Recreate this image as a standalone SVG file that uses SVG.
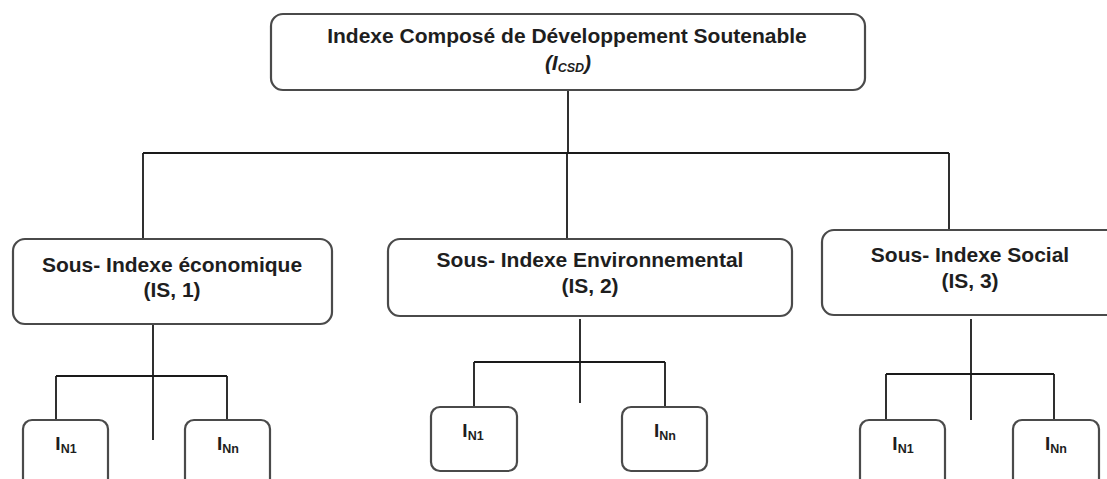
<svg xmlns="http://www.w3.org/2000/svg" width="1107" height="479" viewBox="0 0 1107 479">
<style>
.box{fill:#fff;stroke:#4a4a4a;stroke-width:2.2}
.leaf{fill:#fff;stroke:#4a4a4a;stroke-width:2.2}
.t{font-family:"Liberation Sans",Arial,sans-serif;font-weight:bold;font-size:21px;fill:#1e1e1e;text-anchor:middle}
.lt{font-family:"Liberation Sans",Arial,sans-serif;font-weight:bold;font-size:19px;fill:#1e1e1e;text-anchor:middle}
.sub{font-size:12.5px}
.con{fill:none;stroke:#1a1a1a;stroke-width:1.8}
</style>
<rect width="1107" height="479" fill="#fff"/>
<g id="connectors">
<path class="con" d="M568 90V153M143 153H949M143 153V239M567 153V239M949 153V230"/>
<path class="con" d="M153 324V440M56 376H227M56 376V420M227 376V420"/>
<path class="con" d="M580 319V403M474 362H665M474 362V406M665 362V406"/>
<path class="con" d="M971 319V420M886 374H1054M886 374V420M1054 374V420"/>
</g>
<g id="root">
<rect class="box" x="271" y="14" width="594" height="76" rx="12"/>
<text class="t" x="567" y="43">Indexe Composé de Développement Soutenable</text>
<text class="t" x="568" y="70" font-style="italic" font-size="19">(I<tspan class="sub" dy="2">CSD</tspan><tspan dy="-2">)</tspan></text>
</g>
<g id="econ">
<rect class="box" x="13" y="239" width="319" height="85" rx="12"/>
<text class="t" x="172" y="272">Sous- Indexe économique</text>
<text class="t" x="172" y="297">(IS, 1)</text>
</g>
<g id="env">
<rect class="box" x="388" y="239" width="404" height="77" rx="12"/>
<text class="t" x="590" y="267">Sous- Indexe Environnemental</text>
<text class="t" x="590" y="293">(IS, 2)</text>
</g>
<g id="social">
<rect class="box" x="822" y="230" width="310" height="85" rx="12"/>
<text class="t" x="970" y="262">Sous- Indexe Social</text>
<text class="t" x="970" y="288">(IS, 3)</text>
</g>
<g id="econ-n1">
<rect class="leaf" x="23" y="420" width="85" height="80" rx="9"/>
<text class="lt" x="66" y="450">I<tspan class="sub" dy="3">N1</tspan></text>
</g>
<g id="econ-nn">
<rect class="leaf" x="185" y="420" width="85" height="80" rx="9"/>
<text class="lt" x="228" y="450">I<tspan class="sub" dy="3">Nn</tspan></text>
</g>
<g id="env-n1">
<rect class="leaf" x="431" y="407" width="86" height="64" rx="9"/>
<text class="lt" x="473" y="437">I<tspan class="sub" dy="3">N1</tspan></text>
</g>
<g id="env-nn">
<rect class="leaf" x="622" y="407" width="85" height="64" rx="9"/>
<text class="lt" x="665" y="437">I<tspan class="sub" dy="3">Nn</tspan></text>
</g>
<g id="soc-n1">
<rect class="leaf" x="860" y="420" width="85" height="80" rx="9"/>
<text class="lt" x="903" y="450">I<tspan class="sub" dy="3">N1</tspan></text>
</g>
<g id="soc-nn">
<rect class="leaf" x="1013" y="420" width="86" height="80" rx="9"/>
<text class="lt" x="1056" y="450">I<tspan class="sub" dy="3">Nn</tspan></text>
</g>
</svg>
